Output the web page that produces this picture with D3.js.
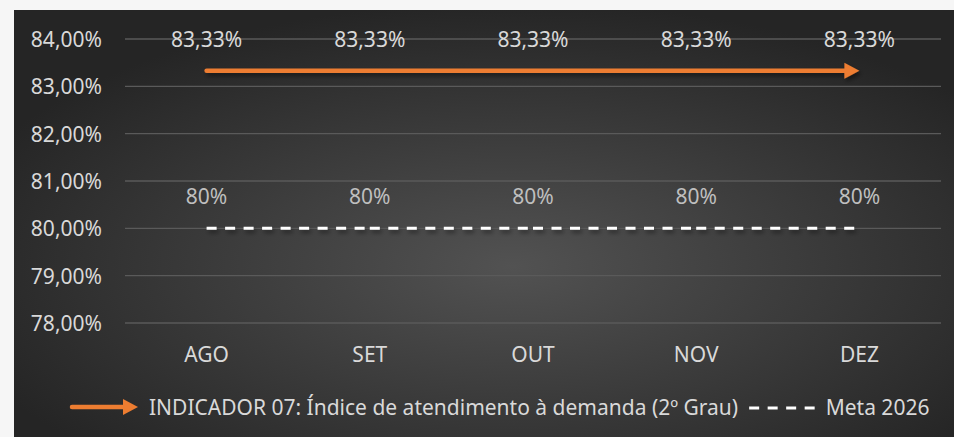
<!DOCTYPE html>
<html>
<head>
<meta charset="utf-8">
<script src="https://cdn.jsdelivr.net/npm/d3@7"></script>
<style>
  html, body { margin: 0; padding: 0; background: #f6f6f6; }
  svg { display: block; font-family: 'Noto Sans', sans-serif; }
</style>
</head>
<body>
<div class="svg-container"></div>
<script>
const months = ['AGO', 'SET', 'OUT', 'NOV', 'DEZ']
const indicador = [83.33, 83.33, 83.33, 83.33, 83.33]
const meta = [80, 80, 80, 80, 80]
const yTicks = [78, 79, 80, 81, 82, 83, 84]
const serieNames = ['INDICADOR 07: Índice de atendimento à demanda (2º Grau)', 'Meta 2026']

;(function init() {
  const width = 954
  const height = 437
  const box = { x: 14, y: 10, w: 940, h: 427 }
  const plot = { left: 125, right: 941, top: 39, bottom: 323 }

  const orange = '#ED7D31'
  const labelColor = '#d9d9d9'

  const br = d3.formatLocale({ decimal: ',', thousands: '.', grouping: [3], currency: ['R$', ''] })
  const fmt2 = br.format('.2f')

  const svg = d3
    .select('.svg-container')
    .append('svg')
    .attr('width', width)
    .attr('height', height)

  const defs = svg.append('defs')
  const grad = defs
    .append('radialGradient')
    .attr('id', 'bg')
    .attr('cx', '53%')
    .attr('cy', '60%')
    .attr('r', '62%')
  grad.append('stop').attr('offset', '0%').attr('stop-color', '#525252')
  grad.append('stop').attr('offset', '100%').attr('stop-color', '#252525')

  // userSpaceOnUse so flat (zero-height) lines still get the shadow
  const shadow = defs.append('filter').attr('id', 'shadow')
    .attr('filterUnits', 'userSpaceOnUse')
    .attr('x', 0).attr('y', 0).attr('width', width).attr('height', height)
  shadow.append('feDropShadow')
    .attr('dx', 2).attr('dy', 3).attr('stdDeviation', 2)
    .attr('flood-color', '#000').attr('flood-opacity', 0.45)

  svg.append('rect')
    .attr('width', width).attr('height', height)
    .attr('fill', '#f6f6f6')

  svg.append('rect')
    .attr('x', box.x).attr('y', box.y)
    .attr('width', box.w).attr('height', box.h)
    .attr('fill', 'url(#bg)')

  const xScale = d3
    .scaleBand()
    .domain(months)
    .range([plot.left, plot.right])

  const xc = (m) => xScale(m) + xScale.bandwidth() / 2

  const yScale = d3
    .scaleLinear()
    .domain([78, 84])
    .range([plot.bottom, plot.top])

  // gridlines
  svg.append('g')
    .selectAll('line')
    .data(yTicks)
    .enter()
    .append('line')
    .attr('x1', plot.left)
    .attr('x2', plot.right)
    .attr('y1', (d) => yScale(d))
    .attr('y2', (d) => yScale(d))
    .attr('stroke', '#5a5a5a')
    .attr('stroke-width', 1.3)

  // y axis labels
  const yAxis = d3.axisLeft(yScale)
    .tickValues(yTicks)
    .tickSize(0)
    .tickPadding(0)
    .tickFormat((d) => fmt2(d) + '%')

  const gy = svg.append('g')
    .attr('transform', 'translate(102,0)')
    .call(yAxis)
  gy.select('.domain').remove()
  gy.selectAll('text')
    .attr('fill', labelColor)
    .attr('font-size', 21)
    .attr('font-family', "'Noto Sans', sans-serif")
    .attr('dy', '0.36em')

  // x axis labels
  const xAxis = d3.axisBottom(xScale).tickSize(0).tickPadding(0)
  const gx = svg.append('g')
    .attr('transform', 'translate(0,' + plot.bottom + ')')
    .call(xAxis)
  gx.select('.domain').remove()
  gx.selectAll('text')
    .attr('fill', labelColor)
    .attr('font-size', 21)
    .attr('font-family', "'Noto Sans', sans-serif")
    .attr('dy', 0)
    .attr('y', 39)

  // meta: dashed, each segment restarts its dash pattern
  const metaPts = months.map((m, i) => [xc(m), yScale(meta[i])])
  svg.append('g')
    .attr('filter', 'url(#shadow)')
    .selectAll('line')
    .data(d3.pairs(metaPts))
    .enter()
    .append('line')
    .attr('x1', (d) => d[0][0])
    .attr('y1', (d) => d[0][1])
    .attr('x2', (d) => d[1][0])
    .attr('y2', (d) => d[1][1])
    .attr('stroke', '#ffffff')
    .attr('stroke-width', 3)
    .attr('stroke-dasharray', '10,8.5')

  // indicador: orange line with arrow at the end
  const indPts = months.map((m, i) => [xc(m), yScale(indicador[i])])
  const gInd = svg.append('g').attr('filter', 'url(#shadow)')
  const last = indPts[indPts.length - 1]
  const head = 15
  gInd.append('path')
    .attr('d', d3.line()(indPts.slice(0, -1).concat([[last[0] - head + 1, last[1]]])))
    .attr('fill', 'none')
    .attr('stroke', orange)
    .attr('stroke-width', 4.5)
    .attr('stroke-linecap', 'round')
  gInd.append('path')
    .attr('d', `M${last[0] - head},${last[1] - 8}L${last[0]},${last[1]}L${last[0] - head},${last[1] + 8}Z`)
    .attr('fill', orange)

  // data labels
  svg.append('g')
    .selectAll('text')
    .data(indicador)
    .enter()
    .append('text')
    .attr('x', (d, i) => xc(months[i]))
    .attr('y', (d) => yScale(d) - 24)
    .attr('text-anchor', 'middle')
    .attr('font-size', 21)
    .attr('fill', labelColor)
    .text((d) => fmt2(d) + '%')

  svg.append('g')
    .selectAll('text')
    .data(meta)
    .enter()
    .append('text')
    .attr('x', (d, i) => xc(months[i]))
    .attr('y', (d) => yScale(d) - 24)
    .attr('text-anchor', 'middle')
    .attr('font-size', 21)
    .attr('fill', '#bfbfbf')
    .text((d) => d + '%')

  // legend
  const ly = 407
  const leg = svg.append('g')
  leg.append('line')
    .attr('x1', 72).attr('x2', 124).attr('y1', ly).attr('y2', ly)
    .attr('stroke', orange).attr('stroke-width', 4.5).attr('stroke-linecap', 'round')
  leg.append('path')
    .attr('d', `M123,${ly - 8}L138,${ly}L123,${ly + 8}Z`)
    .attr('fill', orange)
  const t1 = leg.append('text')
    .attr('x', 149).attr('y', ly + 8)
    .attr('font-size', 21)
    .attr('fill', labelColor)
    .text(serieNames[0])
  const t1End = 149 + t1.node().getComputedTextLength()
  const dashX = t1End + 11
  leg.append('line')
    .attr('x1', dashX).attr('x2', dashX + 65.5)
    .attr('y1', ly + 1).attr('y2', ly + 1)
    .attr('stroke', '#ffffff').attr('stroke-width', 3)
    .attr('stroke-dasharray', '10,8.5')
  leg.append('text')
    .attr('x', dashX + 65.5 + 11).attr('y', ly + 8)
    .attr('font-size', 21)
    .attr('fill', labelColor)
    .text(serieNames[1])
})()
</script>
</body>
</html>
